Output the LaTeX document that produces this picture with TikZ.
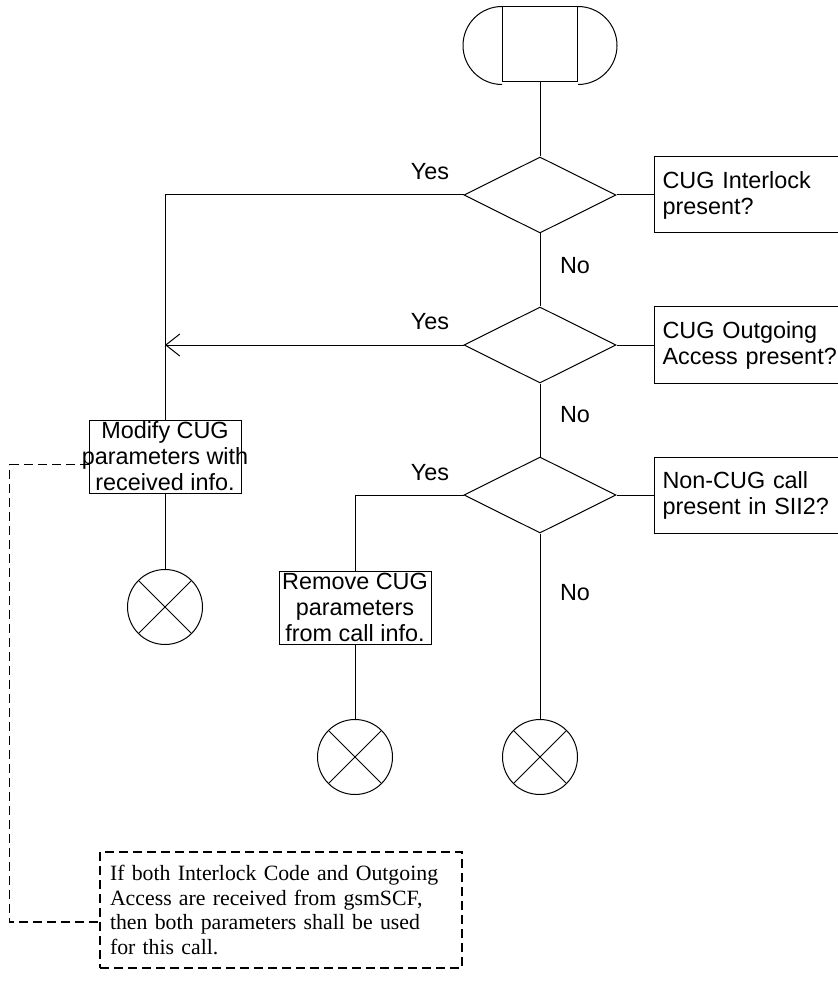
\documentclass[tikz,border=0pt]{standalone}
\usepackage{fontspec}
\setmainfont{Liberation Sans}
\newfontfamily\notefont{Liberation Serif}
\usetikzlibrary{shapes.geometric,arrows.meta}
\begin{document}
\begin{tikzpicture}[x=0.5pt,y=0.5pt,line width=0.5pt,>={Straight Barb[length=7pt,width=11pt]},
	font=\fontsize{11.7}{13}\selectfont,
	decision/.style={draw,diamond,aspect=2,minimum width=76pt,minimum height=38pt,inner sep=0pt},
	quest/.style={anchor=west,text width=100pt,align=left,minimum height=37.5pt,inner xsep=4pt,inner ysep=0pt},
	proc/.style={draw,align=center,minimum width=76pt,minimum height=36.5pt,inner xsep=0.6pt,inner ysep=-1pt},
	endcirc/.style={draw,circle,minimum size=37.5pt,inner sep=0pt},
	dashes/.style={line width=0.6pt,dash pattern=on 4.5pt off 2.5pt}]
	\useasboundingbox (0,0) rectangle (838,-994);
	% start symbol
	\node[draw,minimum width=37.5pt,minimum height=37.5pt,inner sep=0pt] (start) at (540,-44.5) {};
	\draw (start.north west) arc[start angle=90,end angle=270,radius=19.5pt];
	\draw (start.north east) arc[start angle=90,end angle=-90,radius=19.5pt];
	% decisions
	\node[decision] (d1) at (540,-195) {};
	\node[decision] (d2) at (540,-345) {};
	\node[decision] (d3) at (540,-495) {};
	\node[quest] (q1) at (654,-195) {CUG Interlock\\present?};
	\node[quest] (q2) at (654,-345) {CUG Outgoing\\Access present?};
	\node[quest] (q3) at (654,-495) {Non-CUG call\\present in SII2?};
	% tasks and ends
	\node[proc,inner xsep=-4.4pt] (modify) at (165,-456.5) {Modify CUG\\parameters with\\received info.};
	\node[proc] (remove) at (355,-607.5) {Remove CUG\\parameters\\from call info.};
	\node[endcirc] (e1) at (165,-607) {};
	\node[endcirc] (e2) at (355,-757) {};
	\node[endcirc] (e3) at (540,-757) {};
	\coordinate (j2) at (165,-345);
	\node[draw,dashes,minimum width=181pt,minimum height=58pt,text width=171pt,inner xsep=5pt,align=left,
		font=\notefont\fontsize{10.9}{12.2}\selectfont] (note) at (281,-910)
		{If both Interlock Code and Outgoing\\Access are received from gsmSCF,\\then both parameters shall be used\\for this call.};
	% labels
	\node (y1) at (430,-172) {Yes};
	\node (y2) at (430,-322) {Yes};
	\node (y3) at (430,-473) {Yes};
	\node (n1) at (575,-266) {No};
	\node (n2) at (575,-415) {No};
	\node (n3) at (575,-593) {No};
	% flow lines
	\draw (start.south) -- (d1.north);
	\draw (d1.south) -- (d2.north);
	\draw (d2.south) -- (d3.north);
	\draw (d3.south) -- (e3.north);
	\draw (d1.west) -| (modify.north);
	\draw[->] (d2.west) -- (j2);
	\draw (d3.west) -| (remove.north);
	\draw (modify.south) -- (e1.north);
	\draw (remove.south) -- (e2.north);
	\foreach \q/\d in {q1/d1,q2/d2,q3/d3}{
		\draw (\d.east) -- (\q.west);
		\draw (\q.north east) -- (\q.north west) -- (\q.south west) -- (\q.south east);
	}
	\foreach \e in {e1,e2,e3}
		\draw (\e.north west) -- (\e.south east) (\e.north east) -- (\e.south west);
	\draw[dashes] ([yshift=-4pt]modify.west) -- ++(-79,0) |- ([yshift=-6pt]note.west);
\end{tikzpicture}
\end{document}
